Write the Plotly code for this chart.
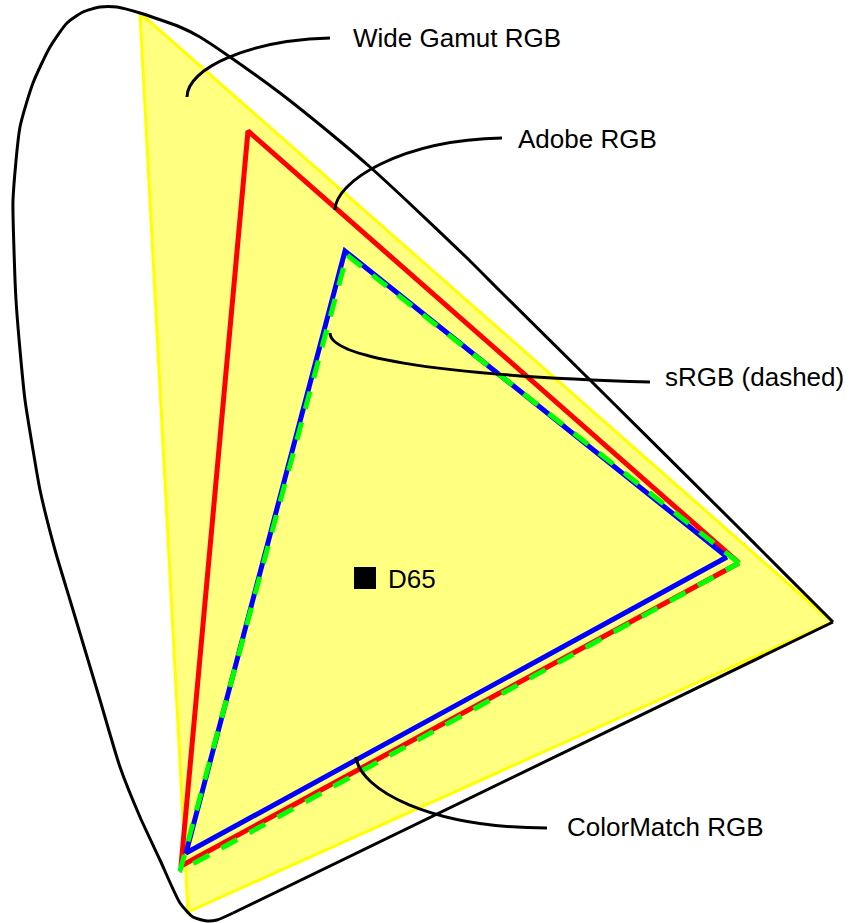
import plotly.graph_objects as go

# Diagram coordinates (drawing units, origin top-left, y grows downward)
# Spectral locus (curved part), traced from the red end around to the violet end
locus_x = [833, 800, 767, 738, 592, 500, 467, 407, 370, 330, 280, 230, 200, 180, 140, 117, 100,
           83, 67, 50, 33, 20, 13, 14, 16, 20, 25, 33, 40, 55, 70, 85, 100, 120, 140,
           160, 180, 193, 207, 217, 233]
locus_y = [622, 589, 556, 527, 382, 291, 258, 201, 167, 133, 93, 57, 37, 27, 13, 7, 7,
           12, 23, 47, 83, 127, 200, 250, 300, 350, 400, 450, 490, 550, 600, 650, 700, 767, 817,
           860, 903, 917, 921, 920, 913]
# Line of purples
purple_x = [833, 233]
purple_y = [622, 913]

# Gamut primaries (R, G, B)
wide_x = [832, 140, 188]
wide_y = [622, 13, 912]
adobe_x = [739, 248, 181]
adobe_y = [563, 131, 866]
srgb_x = [739, 347, 180]
srgb_y = [563, 255, 871]
cmatch_x = [727, 345, 186]
cmatch_y = [557, 251, 853]

# White point
d65_x = [365]
d65_y = [578]

# Labels: text, text position, leader start/control/end
labels = [
    dict(text="Wide Gamut RGB", tx=351, ty=38,
         path=[(187, 97), (187, 68), (250, 40), (330, 38)]),
    dict(text="Adobe RGB", tx=516, ty=139,
         path=[(335, 210), (335, 182), (400, 140), (502, 138)]),
    dict(text="sRGB (dashed)", tx=663, ty=377,
         path=[(330, 333), (330, 355), (420, 375), (650, 382)]),
    dict(text="ColorMatch RGB", tx=565, ty=827,
         path=[(356, 757), (360, 790), (430, 828), (547, 828)]),
]

FONT = "Liberation Sans, Arial, sans-serif"

def closed(xs, ys):
    return list(xs) + [xs[0]], list(ys) + [ys[0]]

fig = go.Figure()

wx, wy = closed(wide_x, wide_y)
fig.add_trace(go.Scatter(x=wx, y=wy, mode="lines", fill="toself",
                         fillcolor="#ffff80", line=dict(color="#ffff00", width=3),
                         hoverinfo="skip"))
fig.add_trace(go.Scatter(x=locus_x, y=locus_y, mode="lines",
                         line=dict(color="black", width=3, shape="spline", smoothing=0.6),
                         hoverinfo="skip"))
fig.add_trace(go.Scatter(x=purple_x, y=purple_y, mode="lines",
                         line=dict(color="black", width=3), hoverinfo="skip"))
ax, ay = closed(adobe_x, adobe_y)
fig.add_trace(go.Scatter(x=ax, y=ay, mode="lines",
                         line=dict(color="#ff0000", width=5), hoverinfo="skip"))
cx, cy = closed(cmatch_x, cmatch_y)
fig.add_trace(go.Scatter(x=cx, y=cy, mode="lines",
                         line=dict(color="#0000ff", width=5), hoverinfo="skip"))
sx, sy = closed(srgb_x, srgb_y)
fig.add_trace(go.Scatter(x=sx, y=sy, mode="lines",
                         line=dict(color="#00ff00", width=5, dash="18px,14px"),
                         hoverinfo="skip"))
fig.add_trace(go.Scatter(x=d65_x, y=d65_y, mode="markers",
                         marker=dict(symbol="square", size=22, color="black"),
                         hoverinfo="skip"))

shapes = []
annotations = []
for lab in labels:
    (x0, y0), (x1, y1), (x2, y2), (x3, y3) = lab["path"]
    shapes.append(dict(type="path", xref="x", yref="y", layer="above",
                       path=f"M {x0},{y0} C {x1},{y1} {x2},{y2} {x3},{y3}",
                       line=dict(color="black", width=3)))
    annotations.append(dict(x=lab["tx"], y=lab["ty"], xref="x", yref="y",
                            text=lab["text"], showarrow=False,
                            xanchor="left", yanchor="middle",
                            font=dict(family=FONT, size=26, color="black")))
annotations.append(dict(x=386, y=579, xref="x", yref="y", text="D65", showarrow=False,
                        xanchor="left", yanchor="middle",
                        font=dict(family=FONT, size=26, color="black")))

fig.update_layout(
    width=858, height=923, autosize=False,
    margin=dict(l=0, r=0, t=0, b=0, pad=0),
    paper_bgcolor="white", plot_bgcolor="white",
    showlegend=False,
    xaxis=dict(range=[0, 858], visible=False, fixedrange=True),
    yaxis=dict(range=[923, 0], visible=False, fixedrange=True),
    shapes=shapes, annotations=annotations,
)

fig.write_html("out.html", config={"displayModeBar": False})
